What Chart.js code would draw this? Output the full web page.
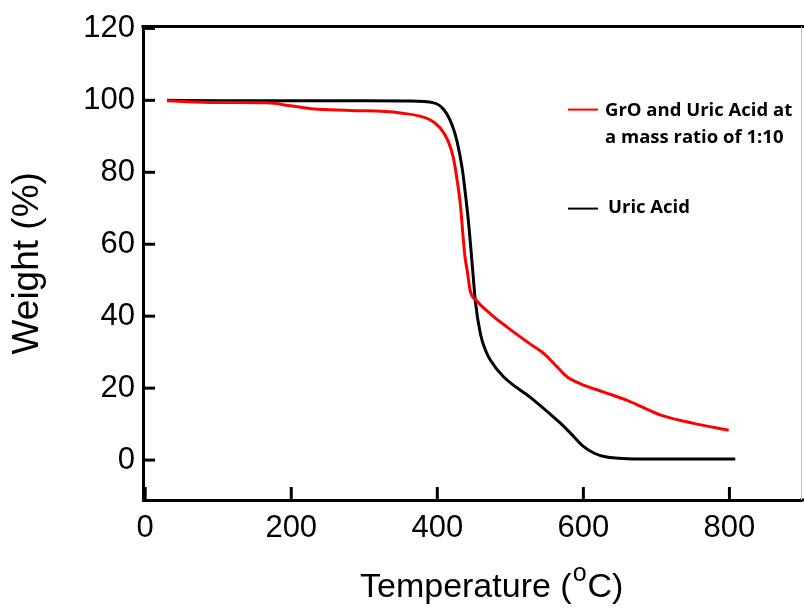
<!DOCTYPE html>
<html>
<head>
<meta charset="utf-8">
<script src="https://cdn.jsdelivr.net/npm/chart.js@4/dist/chart.umd.min.js"></script>
<style>
html,body{margin:0;padding:0;background:#fff;}
#wrap{width:804px;height:613px;}
</style>
</head>
<body>
<div id="wrap"><canvas id="c" width="804" height="613"></canvas></div>
<script>
// ---- data ----
const uricTemp   = [30, 100, 200, 300, 360, 395, 409, 420, 427, 434, 438, 443, 447, 450, 452, 459, 466, 473, 491, 527, 559, 569, 587, 600, 615, 630, 648, 670, 730, 808];
const uricWeight = [100, 99.9, 99.9, 99.9, 99.8, 99.3, 97.4, 93.3, 88.6, 81.2, 74.8, 65.6, 56.3, 49, 44.3, 35.1, 30.5, 27.7, 23.1, 17.5, 12, 10.2, 6.5, 3.8, 1.9, 0.9, 0.5, 0.3, 0.3, 0.3];

const groTemp   = [30, 98, 167, 199, 231, 281, 349, 390, 404, 415, 422, 428, 432, 435, 438, 441, 445, 454, 473, 496, 527, 546, 564, 578, 596, 628, 660, 706, 751, 799];
const groWeight = [99.9, 99.4, 99.3, 98.5, 97.6, 97.2, 96.5, 94.6, 92.3, 88.6, 84, 76.6, 70.2, 62.8, 56.3, 52.6, 47.1, 44.3, 40.6, 36.9, 32.3, 29.6, 25.9, 23.1, 21.2, 18.9, 16.6, 12.5, 10.2, 8.3];

const xTickValues = [0, 200, 400, 600, 800];
const yTickValues = [0, 20, 40, 60, 80, 100, 120];

const groLegend  = ['GrO and Uric Acid at', 'a mass ratio of 1:10'];
const uricLegend = ['Uric Acid'];
const xTitleParts = ['Temperature (', 'o', 'C)'];
const yTitleText = 'Weight (%)';

const SANS = '"Liberation Sans", Arial, Helvetica, sans-serif';
const LEG = '"Open Sans", Lato, sans-serif';

function toPoints(xs, ys){ return xs.map((v,i)=>({x:v, y:ys[i]})); }

const decor = {
  id: 'decor',
  afterDraw(chart){
    const {ctx, chartArea:a, scales:{x, y}} = chart;
    ctx.save();
    ctx.strokeStyle = '#000';
    ctx.lineWidth = 3;
    ctx.lineCap = 'butt';
    // inward tick marks
    xTickValues.forEach(v=>{
      const px = x.getPixelForValue(v);
      ctx.beginPath(); ctx.moveTo(px, a.bottom); ctx.lineTo(px, a.bottom - 13); ctx.stroke();
    });
    yTickValues.forEach(v=>{
      const py = y.getPixelForValue(v);
      ctx.beginPath(); ctx.moveTo(a.left, py); ctx.lineTo(a.left + 12, py); ctx.stroke();
    });
    // top frame line and bottom extension
    ctx.beginPath(); ctx.moveTo(a.left - 1.5, a.top); ctx.lineTo(chart.width, a.top); ctx.stroke();
    ctx.beginPath(); ctx.moveTo(a.right - 1, a.bottom); ctx.lineTo(chart.width, a.bottom); ctx.stroke();
    // thin right edge
    ctx.strokeStyle = '#c4c4c4'; ctx.lineWidth = 1;
    ctx.beginPath(); ctx.moveTo(a.right + 0.5, a.top); ctx.lineTo(a.right + 0.5, a.bottom); ctx.stroke();

    // legend
    const lx = a.left + 425;
    ctx.lineWidth = 2;
    ctx.strokeStyle = '#ff0000';
    ctx.beginPath(); ctx.moveTo(lx, a.top + 83); ctx.lineTo(lx + 30, a.top + 83); ctx.stroke();
    ctx.strokeStyle = '#000';
    ctx.beginPath(); ctx.moveTo(lx, a.top + 182); ctx.lineTo(lx + 30, a.top + 182); ctx.stroke();
    ctx.fillStyle = '#000';
    ctx.textAlign = 'left'; ctx.textBaseline = 'alphabetic';
    // pick a size whose first line spans the same width as in the reference
    let fs = 17;
    ctx.font = 'bold ' + fs + 'px ' + LEG;
    const w = ctx.measureText(groLegend[0]).width;
    fs = Math.max(14, Math.min(22, fs * 187 / w));
    ctx.font = 'bold ' + fs.toFixed(1) + 'px ' + LEG;
    ctx.fillText(groLegend[0], lx + 37, a.top + 89);
    ctx.fillText(groLegend[1], lx + 37, a.top + 116);
    ctx.fillText(uricLegend[0], lx + 40, a.top + 186);

    // x axis title with superscript
    let tx = a.left + 217;
    const ty = a.bottom + 97;
    ctx.font = '34px ' + SANS;
    ctx.fillText(xTitleParts[0], tx, ty);
    tx += ctx.measureText(xTitleParts[0]).width + 1;
    ctx.font = '25px ' + SANS;
    ctx.fillText(xTitleParts[1], tx, ty - 16);
    tx += ctx.measureText(xTitleParts[1]).width + 1;
    ctx.font = '34px ' + SANS;
    ctx.fillText(xTitleParts[2], tx, ty);
    ctx.restore();
  }
};

new Chart(document.getElementById('c'), {
  type: 'scatter',
  data: {
    datasets: [
      {
        label: groLegend.join(' '),
        data: toPoints(groTemp, groWeight),
        showLine: true, borderColor: '#ff0000', backgroundColor: '#ff0000',
        borderWidth: 3, pointRadius: 0, cubicInterpolationMode: 'monotone'
      },
      {
        label: uricLegend[0],
        data: toPoints(uricTemp, uricWeight),
        showLine: true, borderColor: '#000000', backgroundColor: '#000000',
        borderWidth: 3, pointRadius: 0, cubicInterpolationMode: 'monotone'
      }
    ]
  },
  options: {
    responsive: false,
    devicePixelRatio: 1,
    animation: false,
    layout: { padding: { top: 24, right: 3, left: 0, bottom: 0 } },
    plugins: { legend: { display: false }, tooltip: { enabled: false } },
    scales: {
      x: {
        type: 'linear', position: 'bottom', min: -3, max: 898,
        afterBuildTicks: s => { s.ticks = xTickValues.map(v=>({value:v})); },
        afterFit: s => { s.height = 113; },
        grid: { display: false, drawTicks: false },
        border: { display: true, color: '#000', width: 3 },
        ticks: { color: '#000', padding: 10, maxRotation: 0, font: { family: SANS, size: 31 } },
        title: { display: false }
      },
      y: {
        type: 'linear', position: 'left', min: -11.1, max: 120.5,
        afterBuildTicks: s => { s.ticks = yTickValues.map(v=>({value:v})); },
        afterFit: s => { s.width = 143; },
        grid: { display: false, drawTicks: false },
        border: { display: true, color: '#000', width: 3 },
        ticks: { color: '#000', padding: 8, font: { family: SANS, size: 31 } },
        title: { display: true, text: yTitleText, color: '#000', padding: { top: 6, bottom: 0 },
                 font: { family: SANS, size: 37, lineHeight: 1.2 } }
      }
    }
  },
  plugins: [decor]
});
</script>
</body>
</html>
